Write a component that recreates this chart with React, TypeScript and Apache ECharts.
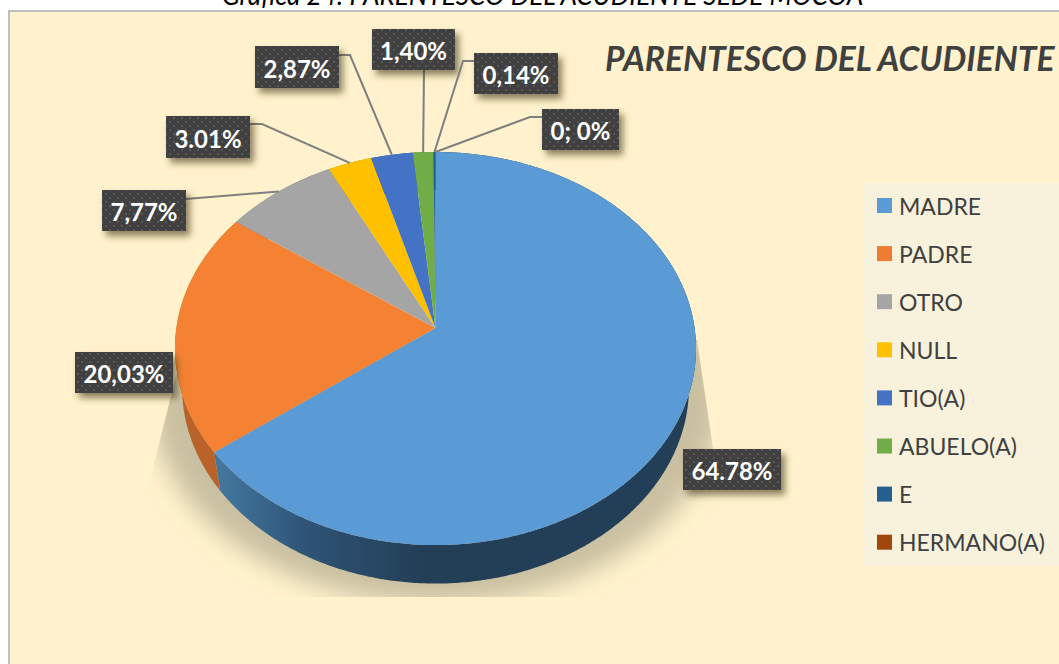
import React, { useEffect, useRef } from "react";
import * as echarts from "echarts";

const categories = ["MADRE", "PADRE", "OTRO", "NULL", "TIO(A)", "ABUELO(A)", "E", "HERMANO(A)"];
const percentages = [64.78, 20.03, 7.77, 3.01, 2.87, 1.4, 0.14, 0];
const labelTexts = ["64.78%", "20,03%", "7,77%", "3.01%", "2,87%", "1,40%", "0,14%", "0; 0%"];
const chartTitle = "PARENTESCO DEL ACUDIENTE";
const pageHeading = "Gráfica 24: PARENTESCO DEL ACUDIENTE SEDE MOCOA";

const legendColors = ["#5b9bd5", "#ed7d31", "#a5a5a5", "#ffc000", "#4472c4", "#70ad47", "#255e91", "#9e480e"];
const faceColors = ["#5b9bd5", "#f58233", "#a5a5a5", "#ffc000", "#4472c4", "#70ad47", "#255e91", "#9e480e"];
const wallColors = ["#233f57", "#b9622a", "#6f6f6f", "#ad8200", "#2e4d85", "#4b7530", "#193f62", "#6b3009"];

// Projection of the tilted disc: apex, half axes, perspective, wall
const AX = 435.5, AY = 328, B = 259.1, A = 194.4, K = 0.1044, DEPTH = 38.5, BOTTOM_SCALE = 0.973;

const rim = (frac: number): number[] => {
  const t = frac * Math.PI * 2;
  const w = 1 + K * Math.cos(t);
  return [AX + (B * Math.sin(t)) / w, AY - (A * Math.cos(t)) / w];
};
const rimLow = (frac: number): number[] => {
  const p = rim(frac);
  return [AX + (p[0] - AX) * BOTTOM_SCALE, p[1] + DEPTH];
};
const arc = (from: number, to: number, fn: (f: number) => number[]): number[][] => {
  const n = Math.max(1, Math.ceil((to - from) * 720));
  const pts: number[][] = [];
  for (let i = 0; i <= n; i++) pts.push(fn(from + ((to - from) * i) / n));
  return pts;
};

const total = percentages.reduce((a, b) => a + b, 0);
const startOf = (i: number) => percentages.slice(0, i).reduce((a, b) => a + b, 0) / total;

// Label boxes [x, y, w, h] and elbow of the leader
const labelBoxes = [
  [683, 449, 98, 41],
  [75, 352, 98, 41],
  [102, 190, 84, 41],
  [166, 116, 84, 42],
  [255, 46, 84, 42],
  [372, 29, 83, 41],
  [474, 53, 84, 41],
  [542, 109, 77, 41],
];
const leaders: (number[][] | null)[] = [
  null,
  null,
  [[186, 199]],
  [[250, 124], [262, 124]],
  [[339, 55], [350, 55]],
  [[424, 70]],
  [[474, 61], [463, 61]],
  [[542, 117], [530, 117]],
];

const makeDots = () => {
  const c = document.createElement("canvas");
  c.width = 8;
  c.height = 8;
  const g = c.getContext("2d")!;
  g.fillStyle = "#404040";
  g.fillRect(0, 0, 8, 8);
  g.fillStyle = "#575757";
  g.fillRect(1, 1, 2, 2);
  g.fillRect(5, 5, 2, 2);
  return c;
};

export default function App() {
  const ref = useRef<HTMLDivElement>(null);
  useEffect(() => {
    const chart = echarts.init(ref.current!, null, { renderer: "svg" });
    const dots = makeDots();

    // The ellipse itself lies below the clip; only its blurred shadow shows.
    const SHADOW_SHIFT = 404;
    const shadowSeries = {
      type: "custom",
      coordinateSystem: "none",
      silent: true,
      z: 1,
      data: [total],
      renderItem: () => ({
        type: "group",
        clipPath: {
          type: "polygon",
          shape: { points: [[185, 340], [145, 500], [145, 597], [735, 597], [697, 340]] },
        },
        children: [
          {
            type: "ellipse",
            shape: { cx: 436, cy: 398 + SHADOW_SHIFT, rx: 285, ry: 205 },
            style: {
              fill: "#c9c0a1",
              shadowBlur: 24,
              shadowOffsetY: -SHADOW_SHIFT,
              shadowColor: "#c9c0a1",
            },
          },
        ],
      }),
    };

    const wallSeries = {
      type: "custom",
      coordinateSystem: "none",
      silent: true,
      z: 2,
      data: percentages.map((v) => [v]),
      renderItem: (params: any, api: any) => {
        const i = params.dataIndex;
        const from = startOf(i);
        const to = from + api.value(0) / total;
        if (to <= from) return { type: "group", children: [] };
        const pts = arc(from, to, rim).concat(arc(from, to, rimLow).reverse());
        const fill =
          i === 0
            ? new echarts.graphic.LinearGradient(216, 0, 420, 0, [
                { offset: 0, color: "#44789f" },
                { offset: 0.45, color: "#2e5376" },
                { offset: 1, color: "#233f57" },
              ], true)
            : wallColors[i];
        return { type: "polygon", shape: { points: pts }, style: { fill } };
      },
    };

    const sliceSeries = categories.map((name, i) => ({
      type: "custom",
      name,
      coordinateSystem: "none",
      silent: true,
      z: 3,
      itemStyle: { color: legendColors[i] },
      data: [percentages[i]],
      renderItem: (_: any, api: any) => {
        const from = startOf(i);
        const to = from + api.value(0) / total;
        const children: any[] = [];
        if (to > from) {
          children.push({
            type: "polygon",
            shape: { points: [[AX, AY], ...arc(from, to, rim)] },
            style: { fill: faceColors[i] },
          });
        }
        return { type: "group", children };
      },
    }));

    const labelSeries = {
      type: "custom",
      coordinateSystem: "none",
      silent: true,
      z: 4,
      data: labelTexts.map((t, i) => [percentages[i], t]),
      renderItem: (params: any) => {
        const i = params.dataIndex;
        const [x, y, w, h] = labelBoxes[i];
        const children: any[] = [];
        const lead = leaders[i];
        if (lead) {
          const mid = startOf(i) + percentages[i] / total / 2;
          children.push({
            type: "polyline",
            shape: { points: [...lead, rim(mid)] },
            style: { stroke: "#7f7f7f", lineWidth: 2, fill: "none" },
          });
        }
        children.push({
          type: "rect",
          shape: { x, y, width: w, height: h },
          style: { fill: "#404040", shadowBlur: 7, shadowOffsetX: 4, shadowOffsetY: 5, shadowColor: "rgba(60,50,20,0.6)" },
        });
        children.push({
          type: "rect",
          shape: { x, y, width: w, height: h },
          style: { fill: { image: dots, repeat: "repeat" } },
        });
        children.push({
          type: "text",
          x: x + w / 2,
          y: y + h / 2 + 1,
          style: {
            text: labelTexts[i],
            fill: "#ffffff",
            font: "bold 24px Lato",
            align: "center",
            verticalAlign: "middle",
          },
        });
        return { type: "group", children };
      },
    };

    chart.setOption({
      animation: false,
      backgroundColor: "#ffffff",
      title: [
        {
          text: pageHeading,
          left: 222,
          top: -18,
          textStyle: { fontFamily: "Lato", fontStyle: "italic", fontWeight: "normal", fontSize: 26.2, color: "#000000" },
          padding: 0,
          z: 0,
        },
        {
          text: chartTitle,
          left: 605,
          top: 41,
          textStyle: { fontFamily: "Lato", fontStyle: "italic", fontWeight: "bold", fontSize: 33.6, color: "#404040" },
          padding: 0,
        },
      ],
      graphic: [
        {
          type: "rect",
          z: -1,
          shape: { x: 9, y: 11, width: 1070, height: 670 },
          style: { fill: "#fff2cc", stroke: "#bfbfbf", lineWidth: 2 },
        },
        {
          type: "rect",
          z: -1,
          shape: { x: 864, y: 183, width: 195, height: 384 },
          style: { fill: "#f8f2dc" },
        },
      ],
      legend: {
        data: categories,
        orient: "vertical",
        left: 877,
        top: 194,
        padding: 0,
        icon: "rect",
        itemWidth: 15,
        itemHeight: 15,
        itemGap: 25.1,
        selectedMode: false,
        textStyle: { fontFamily: "Lato", fontSize: 23, color: "#404040", padding: [0, 0, 0, 2] },
      },
      series: [shadowSeries, wallSeries, ...sliceSeries, labelSeries],
    });
    return () => chart.dispose();
  }, []);
  return <div ref={ref} style={{ position: "fixed", left: 0, top: 0, width: 1059, height: 664 }} />;
}
